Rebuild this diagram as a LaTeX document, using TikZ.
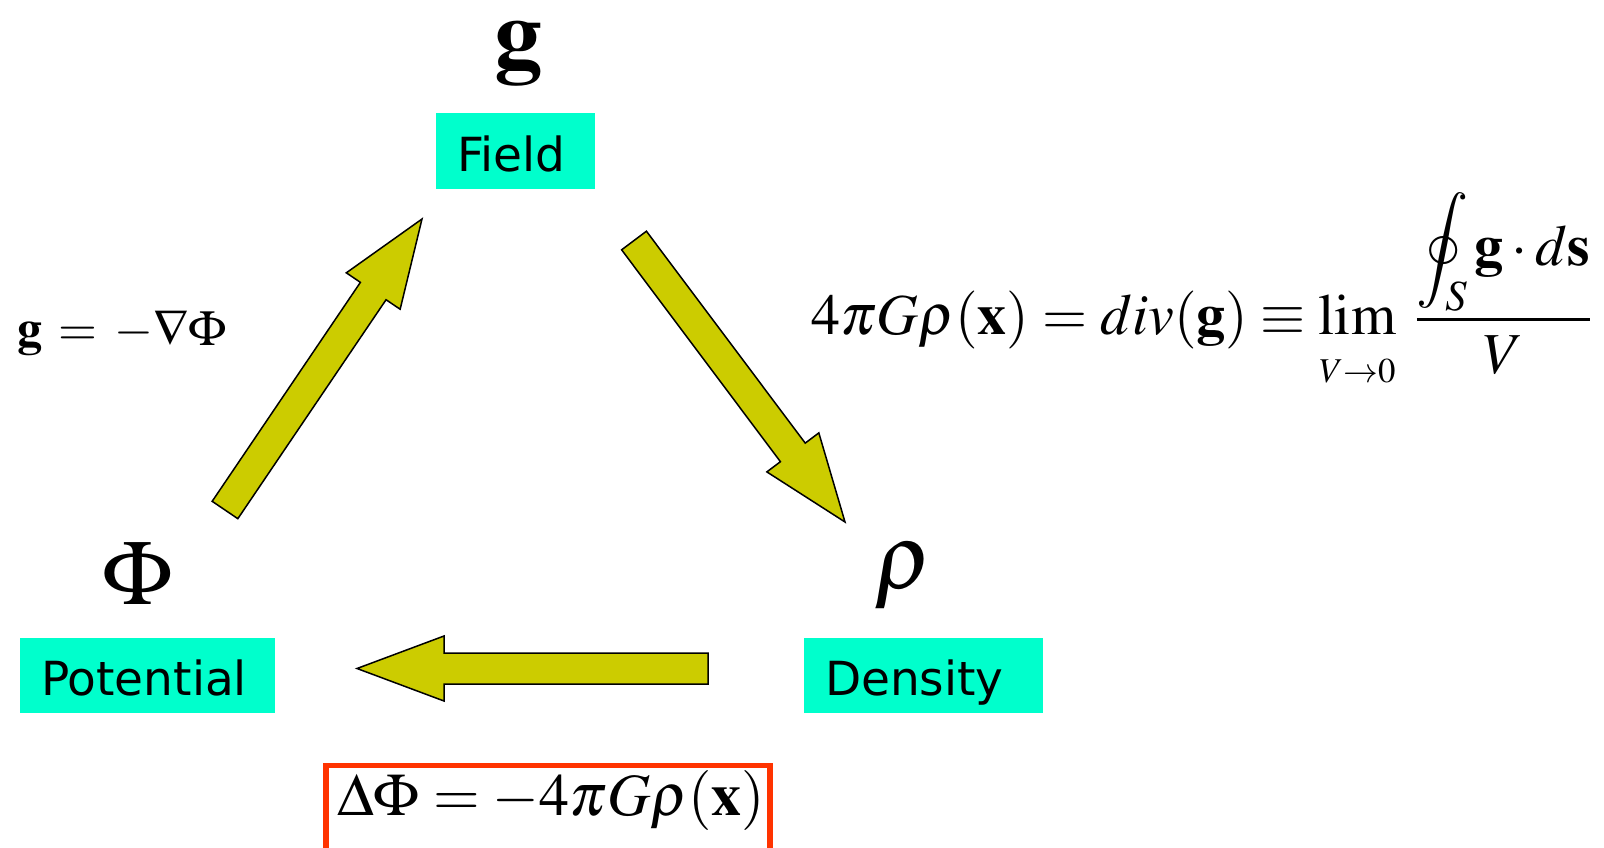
\documentclass[tikz,border=0pt]{standalone}
\usepackage{mathptmx}
\usepackage[no-math]{fontspec}
\newfontfamily\labelfont{DejaVu Sans}
\usetikzlibrary{calc}
\definecolor{boxcyan}{HTML}{00FFCC}
\definecolor{arrowolive}{HTML}{CCCC00}
\definecolor{framered}{HTML}{FF3300}
% fat arrow from tail #1 to tip #2
\newcommand{\blockarrow}[2]{%
  \coordinate (hb) at ($(#2)!87pt!(#1)$);
  \filldraw[bigarrow] ($(#1)!15.5pt!90:(#2)$) -- ($(hb)!15.5pt!-90:(#1)$)
    -- ($(hb)!32.5pt!-90:(#1)$) -- (#2) -- ($(hb)!32.5pt!90:(#1)$)
    -- ($(hb)!15.5pt!90:(#1)$) -- ($(#1)!15.5pt!-90:(#2)$) -- cycle;}
\begin{document}
\begin{tikzpicture}[x=1pt,y=-1pt,
  symlabel/.style={inner sep=0pt, anchor=base, font=\fontsize{92}{100}\selectfont},
  qtybox/.style={fill=boxcyan, align=left, inner xsep=21pt, inner ysep=0pt,
    text height=58pt, text depth=17pt, font=\labelfont\fontsize{47}{56}\selectfont},
  formula/.style={inner sep=0pt, anchor=base west},
  bigarrow/.style={fill=arrowolive, draw=black, line width=1.5pt, line join=miter},
  redframe/.style={draw=framered, line width=5.5pt}]
  \useasboundingbox (0,0) rectangle (1604,848);
  \clip (0,0) rectangle (1604,848);
  % boxes
  \node[qtybox, text width=117pt] (field) at (515.5,151) {Field};
  \node[qtybox, text width=213pt] (potential) at (147.5,675) {Potential};
  \node[qtybox, text width=197pt] (density) at (923.5,675) {Density};
  % symbols
  \node[symlabel, font=\fontsize{96}{100}\selectfont] (gsym) at (518,67) {$\mathbf{g}$};
  \node[symlabel] (phisym) at (138,604) {$\Phi$};
  \node[symlabel] (rhosym) at (904,588) {$\rho$};
  % arrows
  \coordinate (up-tail) at (225,510);
  \coordinate (up-tip) at (422,219);
  \coordinate (dn-tail) at (634,240.5);
  \coordinate (dn-tip) at (845,522);
  \coordinate (lt-tail) at (708,668.5);
  \coordinate (lt-tip) at (357,668.5);
  \blockarrow{up-tail}{up-tip}
  \blockarrow{dn-tail}{dn-tip}
  \blockarrow{lt-tail}{lt-tip}
  % formulas
  \node[formula, font=\fontsize{50}{54}\selectfont] (gradf) at (17,345)
    {$\mathbf{g}\,=\,-\nabla\Phi$};
  \node[formula, font=\fontsize{58}{62}\selectfont] (divf) at (811,334)
    {$\displaystyle 4\pi G\rho(\mathbf{x}) = div(\mathbf{g}) \equiv
      \lim_{\raisebox{-14pt}{$\scriptscriptstyle V\to 0$}}\;
      \frac{\displaystyle\oint_S \mathbf{g}\cdot d\mathbf{s}}{V}$};
  \draw[redframe] (326,765.5) rectangle (770,880);
  \node[formula, font=\fontsize{60}{66}\selectfont] (lapl) at (337,815)
    {$\Delta\Phi = -4\pi G\rho(\mathbf{x})$};
\end{tikzpicture}
\end{document}
